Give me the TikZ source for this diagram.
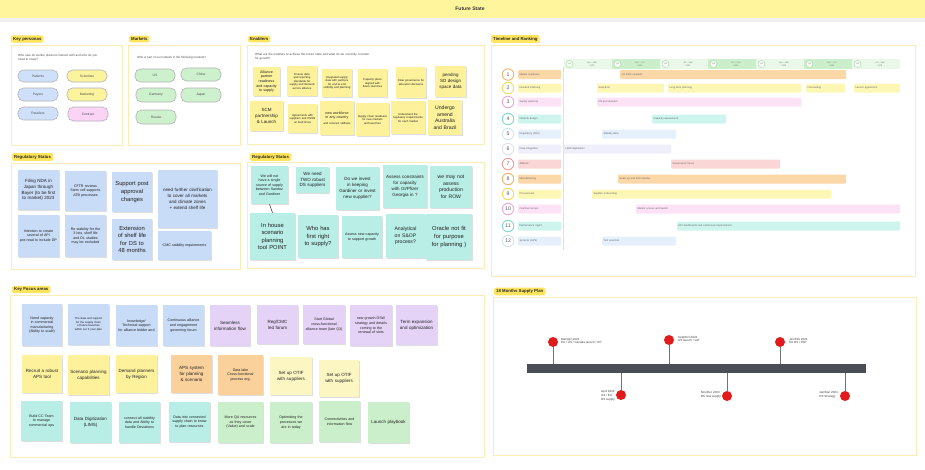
\documentclass[tikz,border=0pt]{standalone}
\usepackage{fontspec}
\setmainfont{Liberation Sans}
\usetikzlibrary{calc}
\definecolor{titley}{HTML}{FFF59D}
\definecolor{tagy}{HTML}{FFE45C}
\definecolor{panelb}{HTML}{FAECB2}
\definecolor{nblue}{HTML}{C8DBF7}
\definecolor{nyel}{HTML}{FDF29B}
\definecolor{ncyan}{HTML}{B8EEE6}
\definecolor{npurp}{HTML}{E4D3F6}
\definecolor{norange}{HTML}{FAD09B}
\definecolor{nlyel}{HTML}{FCF6C2}
\definecolor{ngreen}{HTML}{CBEFCB}
\definecolor{pblue}{HTML}{CFE0FB}
\definecolor{pyel}{HTML}{FCF39D}
\definecolor{ppink}{HTML}{FBD3F5}
\definecolor{pgreen}{HTML}{CDF1CD}
\definecolor{pinred}{HTML}{E11B1B}
\definecolor{barslate}{HTML}{4A4F57}
\definecolor{tOr}{HTML}{FCD7A8}\definecolor{tOrB}{HTML}{F5B26B}
\definecolor{tYe}{HTML}{FDF7B6}\definecolor{tYeB}{HTML}{F3DC5A}
\definecolor{tPk}{HTML}{FDE2F6}\definecolor{tPkB}{HTML}{F0A8DA}
\definecolor{tCy}{HTML}{CDF5EE}\definecolor{tCyB}{HTML}{7FDCCB}
\definecolor{tBl}{HTML}{E6F0FD}\definecolor{tBlB}{HTML}{D5E3F5}
\definecolor{tLv}{HTML}{EFEFFC}\definecolor{tLvB}{HTML}{E0E0F2}
\definecolor{tRd}{HTML}{FBD6D6}\definecolor{tRdB}{HTML}{F19A9A}
\definecolor{hL}{HTML}{E9F8E9}\definecolor{hD}{HTML}{CBEFCB}\definecolor{hB}{HTML}{A5DDA5}
\newcommand\bx[7]{%
  \pgfmathsetmacro\bxw{(#4)-(#2)}%
  \pgfmathsetmacro\bxh{(#5)-(#3)}%
  \pgfmathsetmacro\bxt{max((#4)-(#2)-3,1)}%
  \node[#6, minimum width=\bxw pt, minimum height=\bxh pt, text width=\bxt pt] (#1) at ({((#2)+(#4))/2},{((#3)+(#5))/2}) {#7};}
\newcommand\nt[8]{%
  \fill[black!13] ({(#2)+0.7},{(#3)+1.3}) rectangle ({(#4)+0.7},{(#5)+1.3});
  \bx{#1}{#2}{#3}{#4}{#5}{note,fill=#6,#7}{#8}}
\begin{document}
\hyphenpenalty=10000 \exhyphenpenalty=10000
\begin{tikzpicture}[x=1pt,y=-1pt,
  panel/.style={draw=panelb, fill=white, line width=0.8pt, inner sep=0pt},
  tag/.style={fill=tagy, rounded corners=1.5pt, inner xsep=2pt, inner ysep=1.8pt, font=\fontsize{4.3}{5}\selectfont\bfseries, text=black!85, anchor=west},
  note/.style={inner sep=0pt, align=center, text=black!88},
  pill/.style={draw=black!30, line width=0.6pt, rounded corners=5.5pt, inner sep=0pt, align=center, font=\fontsize{3.3}{3.9}\selectfont, text=black!70},
  gpill/.style={pill, draw=black!30, fill=pgreen},
  f2/.style={font=\fontsize{2.8}{3.5}\selectfont},
  f3/.style={font=\fontsize{3.6}{4.6}\selectfont},
  f4/.style={font=\fontsize{4.5}{5.8}\selectfont},
  f5/.style={font=\fontsize{5.1}{6.6}\selectfont},
  f6/.style={font=\fontsize{5.8}{7.6}\selectfont},
  sub/.style={anchor=north west, align=left, inner sep=0pt, font=\fontsize{3}{3.7}\selectfont, text=black!70},
  tcirc/.style={circle, fill=white, line width=0.9pt, minimum size=11.5pt, inner sep=0pt, font=\fontsize{5.2}{5.2}\selectfont, text=black!65},
  tlab/.style={rounded corners=1pt, inner sep=0pt, align=left, font=\fontsize{2.6}{3.1}\selectfont, text=black!60},
  hcirc/.style={circle, draw=hB, fill=white, line width=0.5pt, minimum size=7pt, inner sep=0pt, font=\fontsize{2.2}{2.2}\selectfont, text=black!55},
  htxt/.style={align=center, inner sep=0pt, font=\fontsize{2.2}{2.7}\selectfont, text=black!50},
  redpin/.style={circle, fill=pinred, minimum size=10pt, inner sep=0pt},
  stemline/.style={draw=black!55, line width=0.5pt},
  pintxt/.style={align=left, inner sep=0pt, font=\fontsize{3}{3.8}\selectfont, text=black!75},
]
\useasboundingbox (0,0) rectangle (925,469);
\fill[white] (0,0) rectangle (925,469);
% title bar
\fill[titley] (0,0) rectangle (925,18);
\fill[black!6] (0,18) rectangle (925,22);
\node[font=\fontsize{5}{6}\selectfont\bfseries, text=black!80] (title) at (470,9) {Future State};

% ---------- panels ----------
\bx{pKP}{11}{45}{122}{145}{panel}{}
\bx{pMK}{128}{45}{240}{145}{panel}{}
\bx{pEN}{247}{45}{484}{144}{panel}{}
\bx{pRS}{11}{163}{240}{269}{panel}{}
\bx{pRS2}{247}{162}{484}{268}{panel}{}
\bx{pKF}{10}{295}{484}{457}{panel}{}
\bx{pTL}{491}{45}{915}{276}{panel}{}
\bx{pSP}{493}{297}{916}{455}{panel}{}

\node[tag] (tKP) at (11,39) {Key personas};
\node[tag] (tMK) at (129,39) {Markets};
\node[tag] (tEN) at (248,39) {Enablers};
\node[tag] (tRS) at (12,157) {Regulatory Status};
\node[tag] (tRS2) at (250,157) {Regulatory Status};
\node[tag] (tKF) at (12,289.5) {Key Focus areas};
\node[tag] (tTL) at (491,39) {Timeline and Ranking};
\node[tag] (tSP) at (494,291.5) {18 Months Supply Plan};

% ---------- key personas ----------
\node[sub, text width=86pt] (kpsub) at (18,54) {Who else do we/the planners interact with and who do you need to know?};
\bx{kp1}{18}{70}{58}{82}{pill,fill=pblue}{Patients}
\bx{kp2}{18}{88}{58}{101}{pill,fill=pblue}{Payers}
\bx{kp3}{18}{107}{58}{120}{pill,fill=pblue}{Retailers}
\bx{kp4}{67}{70}{107}{82}{pill,fill=pyel}{Scientists}
\bx{kp5}{67}{88}{107}{101}{pill,fill=pyel}{Marketing}
\bx{kp6}{68}{107}{108}{121}{pill,fill=ppink}{Contract}

% ---------- markets ----------
\node[sub] (mksub) at (137,56.5) {Who is part of our network in the following markets?};
\bx{mk1}{135}{69}{175}{82}{gpill}{US}
\bx{mk2}{181}{68}{221}{81}{gpill}{China}
\bx{mk3}{136}{88}{176}{102}{gpill}{Germany}
\bx{mk4}{181}{88}{221}{102}{gpill}{Japan}
\bx{mk5}{136}{110}{176}{124}{gpill}{Russia}

% ---------- enablers ----------
\node[sub, text width=118pt] (ensub) at (255,53) {What are the enablers to achieve this future state and what do we currently consider for growth?};
\nt{e1}{253}{67}{280}{96}{nyel}{f3}{Alliance partner readiness and capacity to supply}
\nt{e2}{287}{66}{317}{96}{nyel}{f2}{Ensure data and reporting standards for supply and demand across alliance}
\nt{e3}{322}{69}{352}{97}{nyel}{f2}{Integrated supply data with partners for end-to-end visibility and planning}
\nt{e4}{358}{69}{387}{97}{nyel}{f2}{Capacity plans aligned with future launches}
\nt{e5}{396}{67}{426}{98}{nyel}{f2}{Clear governance for allocation decisions}
\nt{e6}{435}{66}{466}{97}{nyel}{f4}{pending SD design space data}
\nt{e7}{250}{101}{283}{131}{nyel}{f4}{SCM partnership \& Launch}
\nt{e8}{288}{104}{317}{133}{nyel}{f2}{Agreements with suppliers and CMOs on lead times}
\nt{e9}{320}{101}{354}{135}{nyel}{f3}{new workforce in any country\\[1pt]{\fontsize{2.8}{3.2}\selectfont and relevant skillsets}}
\nt{e10}{356}{103}{389}{136}{nyel}{f2}{Supply chain readiness for new markets and launches}
\nt{e11}{391}{101}{425}{134}{nyel}{f2}{Understand the regulatory requirements for each market}
\nt{e12}{428}{100}{462}{135}{nyel}{f5}{Undergo amend Australia and Brazil}

% ---------- regulatory status (left) ----------
\nt{rs1}{18}{170}{59}{210}{nblue}{f4}{Filing NDA in Japan through Bayer (to be first to market) 2023}
\nt{rs2}{65}{171}{106}{211}{nblue}{f3}{CFTR reviews Stem cell supports ATB processes}
\nt{rs3}{112}{172}{152}{212}{nblue}{f6}{Support post approval changes}
\nt{rs4}{158}{170}{217}{228}{nblue}{f4}{need further clarification to cover all markets and climate zones + extend shelf life}
\nt{rs5}{18}{215}{59}{257}{nblue}{f3}{Intention to create several of API pre-read to include DP}
\nt{rs6}{65}{215}{106}{257}{nblue}{f3}{Re stability for the 3 lots, shelf life and DL studies may be excluded}
\nt{rs7}{112}{219}{152}{260}{nblue}{f6}{Extension of shelf life for DS to 48 months}
\nt{rs8}{158}{231}{211}{260}{nblue}{f3}{CMC stability requirements}

% ---------- regulatory status (right) ----------
\nt{rr1}{251}{166}{288}{204}{ncyan}{f3}{We will not have a single source of supply between Sandoz and Gardiner}
\nt{rr2}{296}{167}{329}{193}{ncyan}{f4}{We need TWO robust DS suppliers}
\nt{rr3}{336}{167}{379}{210}{ncyan}{f4}{Do we invest in keeping Gardiner or invest new supplier?}
\nt{rr4}{383}{165}{427}{208}{ncyan}{f4}{Assess constraints for capacity with Gl/Pfizer Georgia in ?}
\nt{rr5}{430}{166}{472}{208}{ncyan}{f5}{we may not assess production for ROW}
\nt{rr6}{250}{213}{295}{260}{ncyan}{f6}{In house scenario planning tool POINT}
\nt{rr7}{298}{215}{338}{258}{ncyan}{f6}{Who has first right to supply?}
\nt{rr8}{342}{216}{382}{258}{ncyan}{f3}{Assess new capacity to support growth}
\nt{rr9}{386}{214}{425}{258}{ncyan}{f5}{Analytical on S\&OP process?}
\nt{rr10}{426}{214}{472}{260}{ncyan}{f6}{Oracle not fit for purpose for planning )}
\draw[black!70, line width=0.6pt] (rr1.south) -- (rr6.north);

% ---------- key focus areas ----------
\nt{k1}{22}{304}{62}{346}{nblue}{f3}{Need capacity in commercial manufacturing (Ability to scale)}
\nt{k2}{68}{304}{109}{345}{nblue}{f2}{The data and support for the supply chain of future launches within our 5 year plan}
\nt{k3}{116}{305}{157}{346}{nblue}{f3}{knowledge/ Technical support for alliance bidder and}
\nt{k4}{163}{305}{204}{346}{nblue}{f3}{Continuous alliance and engagement governing forum}
\nt{k5}{210}{305}{250}{346}{npurp}{f4}{Seamless information flow}
\nt{k6}{257}{305}{298}{344}{npurp}{f4}{Reg/CMC led forum}
\nt{k7}{303}{305}{345}{344}{npurp}{f3}{Start Global cross-functional alliance team (late Q3)}
\nt{k8}{350}{305}{392}{346}{npurp}{f3}{new growth DSW strategy and details coming to the renewal of slots}
\nt{k9}{396}{305}{437}{345}{npurp}{f4}{Term expansion and optimization}
\nt{k10}{22}{355}{62}{393}{nyel}{f4}{Recruit a robust APS tool}
\nt{k11}{68}{355}{109}{395}{nyel}{f4}{Scenario planning capabilities}
\nt{k12}{116}{355}{157}{393}{nyel}{f4}{Demand planners by Region}
\nt{k13}{171}{355}{212}{393}{norange}{f4}{APS system for planning \& scenario}
\nt{k14}{218}{355}{263}{395}{norange}{f3}{Data lake Cross-functional process org.}
\nt{k15}{270}{357}{312}{395}{nlyel}{f4}{Set up OTIF with suppliers}
\nt{k16}{319}{360}{359}{397}{nlyel}{f4}{Set up OTIF with suppliers}
\nt{k17}{21}{401}{62}{441}{ncyan}{f3}{Build CC Team to manage commercial ops}
\nt{k18}{70}{402}{111}{443}{ncyan}{f4}{Data Digitization (LIMS)}
\nt{k19}{119}{402}{160}{443}{ncyan}{f3}{connect all stability data and Ability to handle Deviations}
\nt{k20}{169}{402}{210}{442}{ncyan}{f3}{Data into connected supply chain to know to plan resources}
\nt{k21}{218}{402}{263}{443}{ngreen}{f3}{More QA resources as they cover (Value) and scale}
\nt{k22}{270}{402}{312}{443}{ngreen}{f3}{Optimizing the processes we are in today}
\nt{k23}{319}{401}{360}{442}{ngreen}{f3}{Connectivities and information flow}
\nt{k24}{368}{402}{409}{443}{ngreen}{f4}{Launch playbook}

% ---------- timeline and ranking ----------
\foreach \i/\q/\m/\yr in {0/Q1/Jan -- Mar/2023, 1/Q2/Apr -- Jun/2023, 2/Q3/Jul -- Sep/2023, 3/Q4/Oct -- Dec/2023, 4/Q1/Jan -- Mar/2024, 5/Q2/Apr -- Jun/2024, 6/Q3/Jul -- Sep/2024}{
  \pgfmathsetmacro\xa{564+48*\i}
  \pgfmathtruncatemacro\odd{mod(\i,2)}
  \ifnum\odd=1 \def\hc{hD}\else\def\hc{hL}\fi
  \fill[\hc] (\xa,59) rectangle ({\xa+48},69);
  \node[hcirc] (hc\i) at ({\xa+5.5},64) {\q};
  \node[htxt] (ht\i) at ({\xa+28},64) {\m\\\yr};
}
\draw[black!12, line width=0.5pt] (563,67) -- (563,250);
\foreach \n/\yy/\cb/\cf/\lt/\ba/\bb/\bt in {
  1/74.5/tOrB/tOr/Market readiness/620/846/Q1 2023 onwards,
  3/102/tPkB/tPk/Supply planning/597/801/DS procurement,
  4/119/tCyB/tCy/Network design/652/726/Capacity assessment,
  5/134/tBlB/tBl/Regulatory (PAS)/602/676/Stability data,
  6/149/tLvB/tLv/Data integration/564/671/LIMS digitization,
  7/164/tRdB/tRd/Alliance/671/780/Governance forum,
  8/179/tOrB/tOr/Manufacturing/618/846/Scale up and tech transfer,
  9/194/tYeB/tYe/Procurement/592/831/Supplier onboarding / OTIF,
  10/209/tPkB/tPk/Commercial ops/636/900/Market access and launch,
  11/226/tCyB/tCy/Performance mgmt/677/900/KPI dashboards and continuous improvement,
  12/241/tBlB/tBl/Systems (APS)/602/676/Tool selection}{
  \node[tcirc, draw=\cb] (c\n) at (508,\yy) {\n};
  \bx{l\n}{518}{\yy-4.5}{561}{\yy+4.5}{tlab,fill=\cf}{\lt}
  \bx{b\n}{\ba}{\yy-4.5}{\bb}{\yy+4.5}{tlab,fill=\cf}{\bt}
}
\node[tcirc, draw=tYeB] (c2) at (508,88) {2};
\bx{l2}{518}{83.5}{561}{92.5}{tlab,fill=tYe}{Demand Planning}
\bx{b2a}{597}{83.5}{664}{92.5}{tlab,fill=tYe}{Analytical}
\bx{b2b}{668}{83.5}{801}{92.5}{tlab,fill=tYe}{Long-term planning}
\bx{b2c}{806}{83.5}{845}{92.5}{tlab,fill=tYe}{Forecasting}
\bx{b2d}{854}{83.5}{900}{92.5}{tlab,fill=tYe}{Launch agreement}

% ---------- 18 months supply plan ----------
\bx{tbar}{527}{364}{866}{373}{fill=barslate, inner sep=0pt}{}
\node[redpin] (pn1) at (553,342) {};
\node[redpin] (pn2) at (669,340) {};
\node[redpin] (pn3) at (780,342) {};
\node[redpin] (pn4) at (621,395) {};
\node[redpin] (pn5) at (727,396) {};
\node[redpin] (pn6) at (845,396) {};
\foreach \p in {1,2,3}{\draw[stemline] (pn\p.south) -- (pn\p |- tbar.north);}
\foreach \p in {4,5,6}{\draw[stemline] (pn\p.north) -- (pn\p |- tbar.south);}
\node[pintxt, anchor=west] (pt1) at (561,341) {Mar/Apr 2023\\EU / US / Canada launch / ICT};
\node[pintxt, anchor=west] (pt2) at (678,339) {Sept/Oct 2023\\US launch / soft};
\node[pintxt, anchor=west] (pt3) at (789,341) {Jan/Feb 2024\\EU DS / TBP};
\node[pintxt, anchor=east] (pt4) at (615,396) {April 2023\\US / EU\\DS supply};
\node[pintxt, anchor=east] (pt5) at (721,395) {Nov/Dec 2023\\DS new supply};
\node[pintxt, anchor=east] (pt6) at (838,395) {Jan/Mar 2024\\DS Strategy};
\end{tikzpicture}
\end{document}
